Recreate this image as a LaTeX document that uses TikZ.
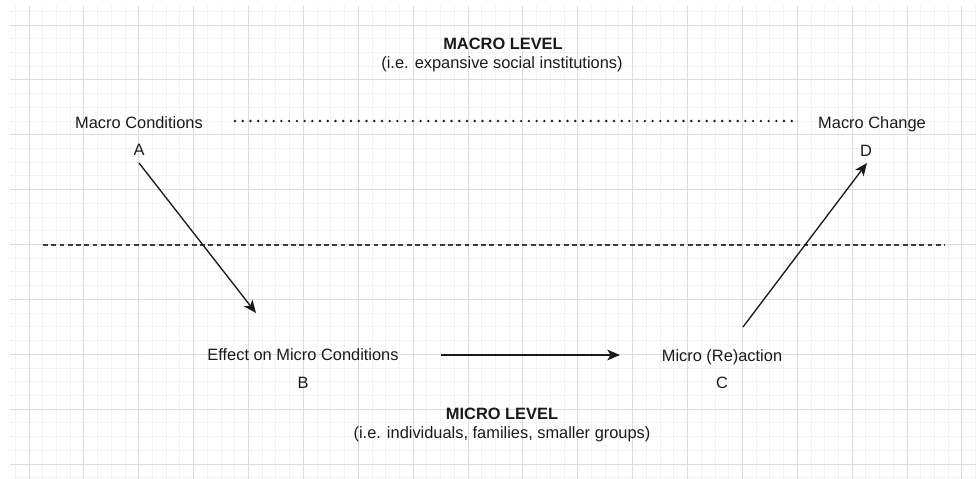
\documentclass[tikz,border=0pt]{standalone}
\usepackage{fontspec}
\setmainfont{Liberation Sans}
\usetikzlibrary{arrows.meta}
\definecolor{minorgrid}{HTML}{F2F2F2}
\definecolor{majorgrid}{HTML}{DCDCDC}
\definecolor{ink}{HTML}{1A1A1A}
\tikzset{
  lbl/.style={font=\fontsize{12.3}{14.8}\selectfont, text=ink, inner sep=0pt, text height=9.2pt, text depth=1.8pt},
  ttl/.style={lbl, font=\fontsize{12.3}{14.8}\selectfont\bfseries},
  link/.style={draw=ink, line width=1pt, -{Stealth[length=9.5pt,width=8pt,inset=2.5pt]}},
  dotline/.style={draw=ink, line width=2pt, line cap=round, dash pattern=on 0pt off 5.8pt},
  dashline/.style={draw=ink!85, line width=1pt, dash pattern=on 3.6pt off 2.6pt},
}
\begin{document}
\begin{tikzpicture}[x=0.75pt,y=-0.75pt]
\useasboundingbox (0,0) rectangle (976,479);
% background grid
\foreach \k in {-1,...,69}
  \draw[minorgrid, line width=0.75pt] ({29+13.72*\k},6) -- ({29+13.72*\k},479);
\foreach \k in {-1,...,33}
  \draw[minorgrid, line width=0.75pt] (10,{25+13.72*\k}) -- (976,{25+13.72*\k});
\foreach \m in {0,...,17}
  \draw[majorgrid, line width=0.75pt] ({29+54.88*\m},6) -- ({29+54.88*\m},479);
\foreach \m in {0,...,8}
  \draw[majorgrid, line width=0.75pt] (10,{25+54.88*\m}) -- (976,{25+54.88*\m});

% macro level
\node[ttl] (macro-title) at (503,45) {MACRO LEVEL};
\node[lbl] (macro-sub) at (502,64) {(i.e. expansive social institutions)};
\node[lbl] (macro-cond) at (139,124) {Macro Conditions};
\node[lbl] (A) at (139,151) {A};
\node[lbl] (macro-chg) at (872,124) {Macro Change};
\node[lbl] (D) at (866,152) {D};

% micro level
\node[lbl] (effect) at (303,356) {Effect on Micro Conditions};
\node[lbl] (B) at (303,384) {B};
\node[lbl] (reaction) at (722,357) {Micro (Re)action};
\node[lbl] (C) at (722,384) {C};
\node[ttl] (micro-title) at (502,415) {MICRO LEVEL};
\node[lbl] (micro-sub) at (502,434) {(i.e. individuals, families, smaller groups)};

% dividers
\coordinate (dot-l) at (235,121);
\coordinate (dot-r) at (796,121);
\coordinate (dash-l) at (43,245);
\coordinate (dash-r) at (945,245);
\draw[dotline] (dot-l) -- (dot-r);
\draw[dashline] (dash-l) -- (dash-r);

% arrows
\coordinate (a-out) at (139,163);
\coordinate (b-in) at (256,313);
\coordinate (b-out) at (441,355);
\coordinate (c-in) at (620,355);
\coordinate (c-out) at (743,327);
\coordinate (d-in) at (867,163);
\draw[link] (a-out) -- (b-in);
\draw[link] (b-out) -- (c-in);
\draw[link] (c-out) -- (d-in);
\end{tikzpicture}
\end{document}
